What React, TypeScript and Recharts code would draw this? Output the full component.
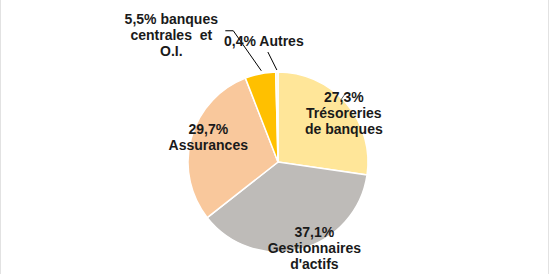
import React from 'react'
import { PieChart, Pie, Cell } from 'recharts'

// répartition des détenteurs (en % du total)
const categories = ['Trésoreries de banques', "Gestionnaires d'actifs", 'Assurances', 'banques centrales et O.I.', 'Autres']
const shares = [27.3, 37.1, 29.7, 5.5, 0.4]
const colors = ['#FFE699', '#BEBBB8', '#F9C89C', '#FFC000', '#FFF2CC']

const data = categories.map((name, i) => ({ name, value: shares[i], color: colors[i] }))

const fmt = (v: number) => `${v.toFixed(1).replace('.', ',')}%`

// texte de chaque étiquette, ligne par ligne
const labelLines = (i: number, v: number): string[] => {
  switch (i) {
    case 0: return [fmt(v), 'Trésoreries', 'de banques']
    case 1: return [fmt(v), 'Gestionnaires', "d'actifs"]
    case 2: return [fmt(v), 'Assurances']
    case 3: return [`${fmt(v)} banques`, 'centrales  et', 'O.I.']
    default: return [`${fmt(v)} Autres`]
  }
}

// placement : rayon relatif + décalage
const LABEL_POS = [
  { r: 0.85, dx: 8, dy: 1 },
  { r: 1.05, dx: 12, dy: -5 },
  { r: 0.78, dx: -2, dy: -6 },
  { r: 1.0, dx: -89, dy: -39 },
  { r: 1.0, dx: -13, dy: -31 },
]

const RADIAN = Math.PI / 180
const LINE_H = 16

const renderLabel = (props: any) => {
  const { cx, cy, midAngle, outerRadius, index, value } = props
  const p = LABEL_POS[index]
  const cos = Math.cos(-midAngle * RADIAN)
  const sin = Math.sin(-midAngle * RADIAN)
  const x = cx + outerRadius * p.r * cos + p.dx
  const y = cy + outerRadius * p.r * sin + p.dy
  const lines = labelLines(index, value)
  const top = y - ((lines.length - 1) * LINE_H) / 2
  const ex = cx + outerRadius * cos
  const ey = cy + outerRadius * sin

  let leader = null
  if (index === 3) {
    leader = <polyline points={`${ex + 1},${ey - 3} ${ex - 27},${ey - 43} ${ex - 35},${ey - 43}`} fill="none" stroke="#000" strokeWidth={1} />
  } else if (index === 4) {
    leader = <line x1={ex} y1={ey - 2} x2={ex - 9} y2={ey - 20} stroke="#000" strokeWidth={1} />
  } else if (index === 0) {
    leader = <line x1={x + 2} y1={top - 4} x2={x - 3} y2={top + 3} stroke="#333" strokeWidth={0.8} />
  }

  return (
    <g>
      {leader}
      <text x={x} y={top} textAnchor="middle" dominantBaseline="central" fill="#1a1a1a"
        style={{ fontFamily: '"Liberation Sans", Arial, sans-serif', fontSize: 14, fontWeight: 'bold', whiteSpace: 'pre' }}>
        {lines.map((l, k) => (
          <tspan key={k} x={x} dy={k === 0 ? 0 : LINE_H}>{l}</tspan>
        ))}
      </text>
    </g>
  )
}

export default function App() {
  return (
    <div style={{ position: 'fixed', left: 0, top: 0, width: 549, height: 274, background: '#fff', boxSizing: 'border-box', borderLeft: '1px solid #e2e2e2', borderRight: '1px solid #e2e2e2' }}>
      <PieChart width={547} height={274}>
        <Pie
          data={data}
          dataKey="value"
          cx={272}
          cy={157}
          outerRadius={90}
          startAngle={90}
          endAngle={-270}
          stroke="#fff"
          strokeWidth={1.5}
          label={renderLabel}
          labelLine={false}
          isAnimationActive={false}
        >
          {data.map((d, i) => (
            <Cell key={`cell-${i}`} fill={d.color} />
          ))}
        </Pie>
      </PieChart>
    </div>
  )
}
